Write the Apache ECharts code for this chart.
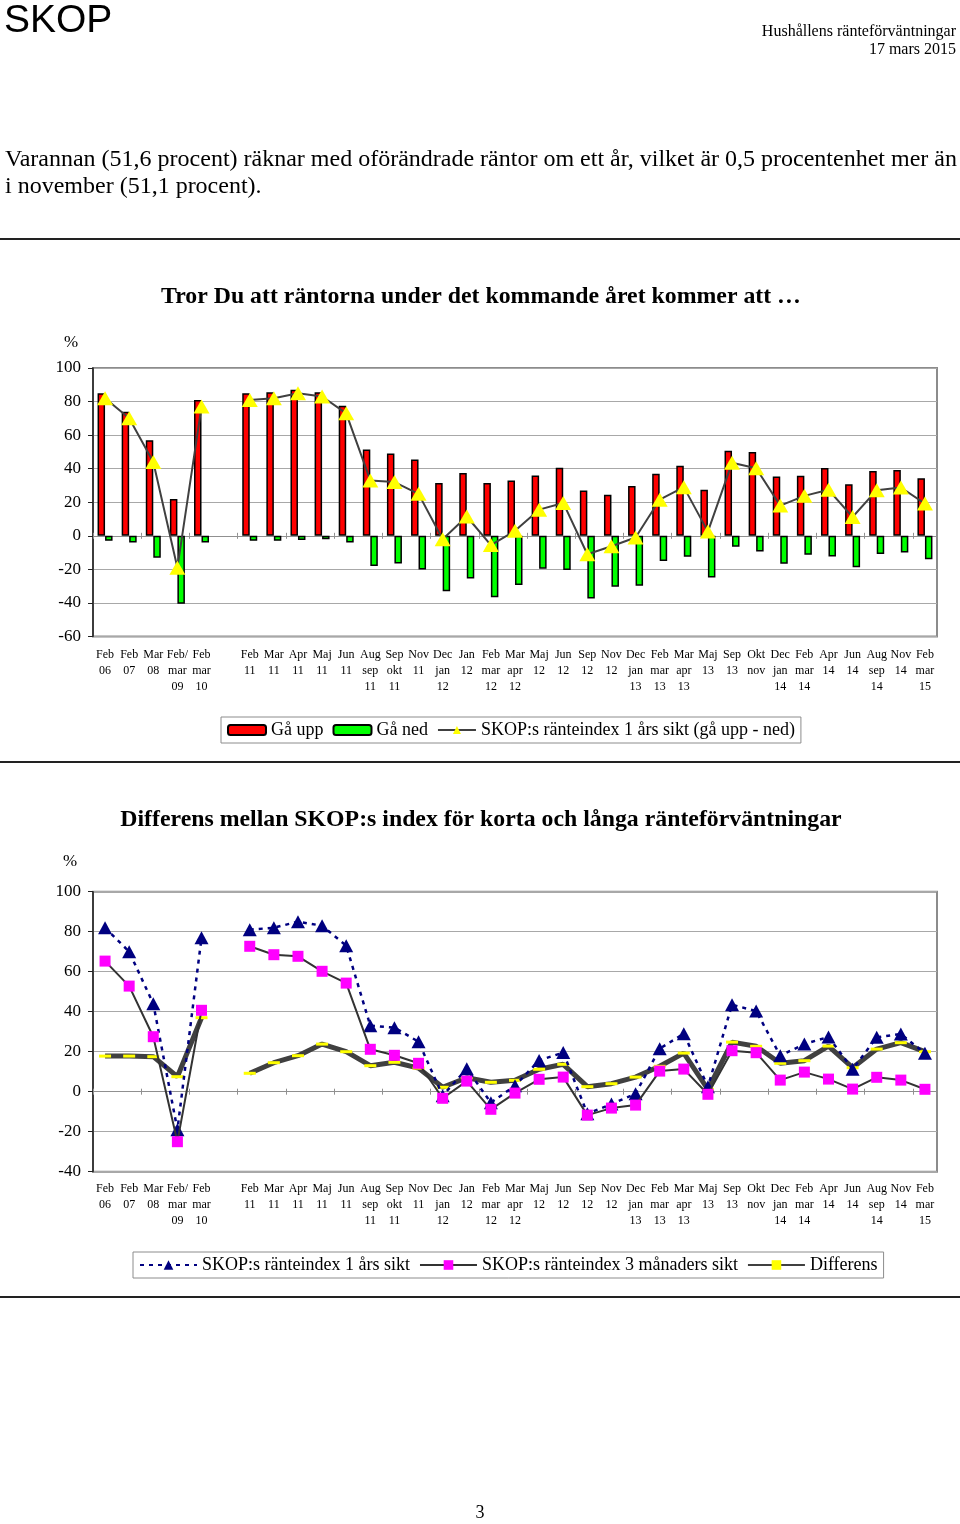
<!DOCTYPE html>
<html>
<head>
<meta charset="utf-8">
<script src="https://cdn.jsdelivr.net/npm/echarts@6/dist/echarts.min.js"></script>
<style>
html,body{margin:0;padding:0;background:#fff;}
#c{width:960px;height:1524px;}
</style>
</head>
<body>
<div id="c"></div>
<script>
// ---- data ----
const categories = ['Feb\n06','Feb\n07','Mar\n08','Feb/\nmar\n09','Feb\nmar\n10','',
  'Feb\n11','Mar\n11','Apr\n11','Maj\n11','Jun\n11','Aug\nsep\n11','Sep\nokt\n11','Nov\n11',
  'Dec\njan\n12','Jan\n12','Feb\nmar\n12','Mar\napr\n12','Maj\n12','Jun\n12','Sep\n12','Nov\n12',
  'Dec\njan\n13','Feb\nmar\n13','Mar\napr\n13','Maj\n13','Sep\n13','Okt\nnov','Dec\njan\n14',
  'Feb\nmar\n14','Apr\n14','Jun\n14','Aug\nsep\n14','Nov\n14','Feb\nmar\n15'];

const goUp = [85, 74, 57, 22, 81, null, 85, 85.5, 87, 85.5, 77.5, 51.5, 49, 45.5, 31.5, 37.5,
  31.5, 33, 36, 40.5, 27, 24.5, 29.7, 37, 41.8, 27.5, 50.7, 50, 35.4, 35.8, 40.4, 30.7, 38.6, 39.2, 34.3];

const goDown = [-3, -4, -13, -40.5, -4, null, -3, -3, -2.5, -2, -4, -18, -16.5, -20, -33, -25.5,
  -36.6, -29.3, -19.6, -20.4, -37.4, -30.3, -29.7, -15, -12.5, -24.8, -6.5, -9.3, -16.6, -11.3, -12.3, -18.8, -10.9, -9.9, -14];

const index1y = [82, 70, 44, -19, 77, null, 81, 82, 85, 83, 73, 33, 32, 25, -2, 11.5,
  -5.5, 3, 15.6, 19.6, -11, -6.2, -1, 21.5, 29, 2.5, 43.5, 40.3, 18, 23.8, 27.4, 11.2, 27.2, 28.8, 19.2];

const index3m = [65.3, 52.8, 27.5, -25, 40.7, null, 72.7, 68.5, 67.7, 60.2, 54.3, 21.2, 18.2, 14.2, -3.3, 5.3,
  -8.8, -0.7, 6.2, 7.3, -11.7, -8.2, -6.7, 10.3, 11.3, -1.3, 20.5, 19.5, 5.8, 9.8, 6.3, 1.3, 7.2, 5.8, 1.2];

const differens = [17.8, 17.8, 17.5, 7.5, 37, null, 9.2, 14.5, 18, 23.8, 20, 13, 14.7, 11.8, 2.2, 7,
  4.7, 5.7, 11.2, 13.7, 2.5, 4, 7.3, 12.7, 19.3, 1.2, 24.8, 22.7, 14.2, 15.5, 22.8, 12, 21.3, 24.5, 20];

const yTicksTop = {min: -60, max: 100, interval: 20};
const yTicksBottom = {min: -40, max: 100, interval: 20};

// ---- chart ----
const SERIF = '"Liberation Serif", "Times New Roman", serif';
const chart = echarts.init(document.getElementById('c'), null, {renderer: 'canvas'});

function labelAxis(gridIndex, margin) {
  return {
    type: 'category', gridIndex, data: categories, position: 'bottom',
    axisLine: {show: false, onZero: false}, axisTick: {show: false},
    axisLabel: {interval: 0, margin, fontFamily: SERIF, fontSize: 12, lineHeight: 16, color: '#000'},
    splitLine: {show: false}
  };
}
function zeroAxis(gridIndex, yIdx, inside) {
  return {
    type: 'category', gridIndex, data: categories, position: 'bottom',
    axisLine: {show: true, onZero: true, onZeroAxisIndex: yIdx, lineStyle: {color: '#909090', width: 1}},
    axisTick: {show: true, inside, length: 3, lineStyle: {color: '#909090'}},
    axisLabel: {show: false}, splitLine: {show: false}
  };
}
function valueAxis(gridIndex, t) {
  return {
    type: 'value', gridIndex, min: t.min, max: t.max, interval: t.interval,
    axisLine: {show: true, onZero: false, lineStyle: {color: '#222', width: 1.5}},
    axisTick: {show: true, length: 5, lineStyle: {color: '#222'}},
    axisLabel: {fontFamily: SERIF, fontSize: 17, color: '#000', margin: 12},
    splitLine: {show: true, lineStyle: {color: '#a8a8a8', width: 1}}
  };
}

const option = {
  animation: false,
  backgroundColor: '#fff',
  grid: [
    {left: 93, right: 23, top: 368, height: 268.5, show: true, borderColor: '#8c8c8c', borderWidth: 2, containLabel: false},
    {left: 93, right: 23, top: 891.7, height: 280, show: true, borderColor: '#8c8c8c', borderWidth: 2, containLabel: false}
  ],
  xAxis: [labelAxis(0, 10), zeroAxis(0, 0, false), zeroAxis(0, 0, true),
          labelAxis(1, 9), zeroAxis(1, 1, false), zeroAxis(1, 1, true)],
  yAxis: [valueAxis(0, yTicksTop), valueAxis(1, yTicksBottom)],
  legend: [
    {
      left: 221, top: 717, padding: [4, 6], borderColor: '#8c8c8c', borderWidth: 1,
      itemWidth: 38, itemHeight: 10, itemGap: 9, selectedMode: false,
      textStyle: {fontFamily: SERIF, fontSize: 18, color: '#000'},
      data: ['Gå upp', 'Gå ned', 'SKOP:s ränteindex 1 års sikt (gå upp - ned)']
    },
    {
      left: 133, top: 1252, padding: [4, 6], borderColor: '#8c8c8c', borderWidth: 1,
      itemWidth: 57, itemHeight: 12, itemGap: 9, selectedMode: false,
      textStyle: {fontFamily: SERIF, fontSize: 18, color: '#000'},
      data: ['SKOP:s ränteindex 1 års sikt', 'SKOP:s ränteindex 3 månaders sikt', 'Differens']
    }
  ],
  series: [
    {
      name: 'Gå upp', type: 'bar', xAxisIndex: 0, yAxisIndex: 0, data: goUp,
      barWidth: 7.5, barGap: '0%',
      itemStyle: {color: '#ff0000', borderColor: '#000', borderWidth: 1.5}
    },
    {
      name: 'Gå ned', type: 'bar', xAxisIndex: 0, yAxisIndex: 0, data: goDown,
      barWidth: 7.5, barGap: '0%',
      itemStyle: {color: '#00ff00', borderColor: '#000', borderWidth: 1.5}
    },
    {
      name: 'SKOP:s ränteindex 1 års sikt (gå upp - ned)', type: 'line', xAxisIndex: 0, yAxisIndex: 0,
      data: index1y, connectNulls: false, showAllSymbol: true,
      symbol: 'triangle', symbolSize: [16, 14], z: 5,
      itemStyle: {color: '#ffff00'}, lineStyle: {color: '#404040', width: 2}
    },
    {
      name: 'Differens', type: 'line', xAxisIndex: 3, yAxisIndex: 1,
      data: differens, connectNulls: false, showAllSymbol: true,
      symbol: 'rect', symbolSize: [12, 3], z: 3,
      itemStyle: {color: '#ffff00'}, lineStyle: {color: '#404040', width: 5}
    },
    {
      name: 'SKOP:s ränteindex 1 års sikt', type: 'line', xAxisIndex: 3, yAxisIndex: 1,
      data: index1y, connectNulls: false, showAllSymbol: true,
      symbol: 'triangle', symbolSize: [14, 13], z: 4,
      itemStyle: {color: '#000080'}, lineStyle: {color: '#000080', width: 2.5, type: [4, 5]}
    },
    {
      name: 'SKOP:s ränteindex 3 månaders sikt', type: 'line', xAxisIndex: 3, yAxisIndex: 1,
      data: index3m, connectNulls: false, showAllSymbol: true,
      symbol: 'rect', symbolSize: 11, z: 5,
      itemStyle: {color: '#ff00ff'}, lineStyle: {color: '#333333', width: 2}
    }
  ],
  graphic: [
    {type: 'text', x: 4, y: 21, style: {text: 'SKOP', font: '39px "Liberation Sans", Arial, sans-serif', fill: '#000', verticalAlign: 'middle'}},
    {type: 'text', x: 956, y: 32, style: {text: 'Hushållens ränteförväntningar', font: '16px ' + SERIF, fill: '#000', align: 'right', verticalAlign: 'middle'}},
    {type: 'text', x: 956, y: 50, style: {text: '17 mars 2015', font: '16px ' + SERIF, fill: '#000', align: 'right', verticalAlign: 'middle'}},
    {type: 'text', x: 5, y: 160, style: {text: 'Varannan (51,6 procent) räknar med oförändrade räntor om ett år, vilket är 0,5 procentenhet mer än', font: '24px ' + SERIF, fill: '#000', verticalAlign: 'middle'}},
    {type: 'text', x: 5, y: 187, style: {text: 'i november (51,1 procent).', font: '24px ' + SERIF, fill: '#000', verticalAlign: 'middle'}},
    {type: 'line', shape: {x1: 0, y1: 239, x2: 960, y2: 239}, style: {stroke: '#222', lineWidth: 2}},
    {type: 'text', x: 481, y: 297, style: {text: 'Tror Du att räntorna under det kommande året kommer att …', font: 'bold 23.8px ' + SERIF, fill: '#000', align: 'center', verticalAlign: 'middle'}},
    {type: 'text', x: 71, y: 343, style: {text: '%', font: '17px ' + SERIF, fill: '#000', align: 'center', verticalAlign: 'middle'}},
    {type: 'line', shape: {x1: 0, y1: 762, x2: 960, y2: 762}, style: {stroke: '#222', lineWidth: 2}},
    {type: 'text', x: 481, y: 820, style: {text: 'Differens mellan SKOP:s index för korta och långa ränteförväntningar', font: 'bold 23.8px ' + SERIF, fill: '#000', align: 'center', verticalAlign: 'middle'}},
    {type: 'text', x: 70, y: 862, style: {text: '%', font: '17px ' + SERIF, fill: '#000', align: 'center', verticalAlign: 'middle'}},
    {type: 'line', shape: {x1: 0, y1: 1297, x2: 960, y2: 1297}, style: {stroke: '#222', lineWidth: 2}},
    {type: 'text', x: 480, y: 1513, style: {text: '3', font: '18px ' + SERIF, fill: '#000', align: 'center', verticalAlign: 'middle'}}
  ]
};
chart.setOption(option);
</script>
</body>
</html>
